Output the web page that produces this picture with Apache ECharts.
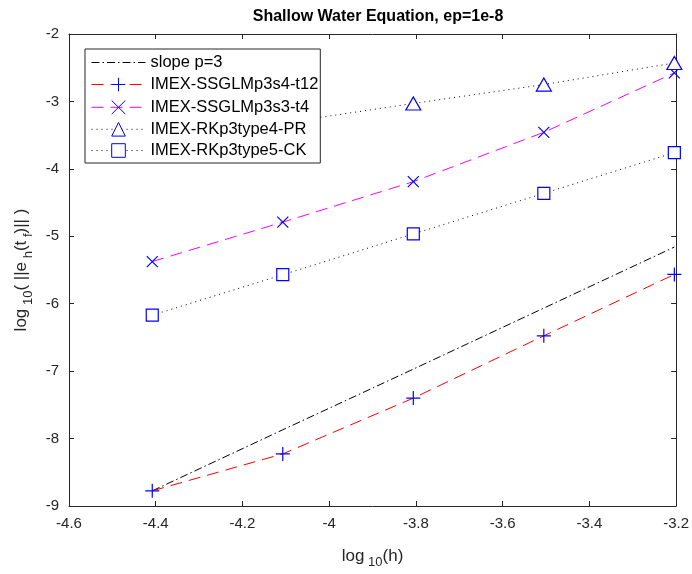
<!DOCTYPE html>
<html>
<head>
<meta charset="utf-8">
<script src="https://cdn.jsdelivr.net/npm/echarts@6/dist/echarts.min.js"></script>
<style>html,body{margin:0;padding:0;background:#fff}#c{width:692px;height:574px}</style>
</head>
<body>
<div id="c"></div>
<script>
// log10(h) sample positions
const logH = [-4.408, -4.107, -3.806, -3.505, -3.204];
const slopeP3 = [-8.775, -7.87, -6.97, -6.065, -5.16];
const ssglmP3s4 = [-8.775, -8.227, -7.40, -6.476, -5.566];
const ssglmP3s3 = [-5.375, -4.79, -4.19, -3.458, -2.577];
const rkType4 = [-3.60, -3.32, -3.03, -2.75, -2.43];
const rkType5 = [-6.17, -5.57, -4.965, -4.363, -3.76];
const seriesNames = ['slope p=3', 'IMEX-SSGLMp3s4-t12', 'IMEX-SSGLMp3s3-t4', 'IMEX-RKp3type4-PR', 'IMEX-RKp3type5-CK'];

function pairs(ys) { return logH.map((x, i) => [x, ys[i]]); }

const FONT = 'Liberation Sans, Arial, Helvetica, sans-serif';
const BLUE = '#0000ff';
const plusPath = 'path://M5,0L5,10M0,5L10,5';
const crossPath = 'path://M0,0L10,10M0,10L10,0';

const chart = echarts.init(document.getElementById('c'), null, {renderer: 'canvas'});
const axisCommon = {
  axisLine: {show: true, lineStyle: {color: '#262626', width: 1}},
  axisTick: {show: true, inside: true, length: 5, lineStyle: {color: '#262626'}},
  splitLine: {show: false},
};
const nameRich = {
  m: {fontFamily: FONT, fontSize: 17, color: '#262626'},
  s: {fontFamily: FONT, fontSize: 13, color: '#262626', padding: [13, 0, 0, 0]}
};
const legendData = seriesNames.map((n, i) => i === 0
  ? {name: n, itemStyle: {color: 'transparent', borderColor: 'transparent', borderWidth: 0}}
  : {name: n});
chart.setOption({
  animation: false,
  backgroundColor: '#fff',
  title: {
    text: 'Shallow Water Equation, ep=1e-8',
    left: 373, textAlign: 'center', top: 4,
    textStyle: {fontFamily: FONT, fontSize: 16, fontWeight: 'bold', color: '#000'}
  },
  grid: {left: 69, right: 15, top: 34, bottom: 63, containLabel: false},
  legend: {
    left: 85, top: 49, orient: 'vertical',
    backgroundColor: '#fff', borderColor: '#262626', borderWidth: 1,
    padding: [5, 2, 4, 6],
    itemWidth: 54, itemHeight: 17, itemGap: 4.2,
    itemStyle: {borderWidth: 1},
    lineStyle: {width: 1},
    textStyle: {fontFamily: FONT, fontSize: 16.5, color: '#000'},
    data: legendData
  },
  xAxis: [
    Object.assign({}, axisCommon, {
      type: 'value', min: -4.6, max: -3.2, interval: 0.2, position: 'bottom',
      axisLabel: {fontFamily: FONT, fontSize: 15, color: '#262626', margin: 10},
      name: '{m|log}{s| 10}{m|(h)}', nameLocation: 'middle', nameGap: 37,
      nameTextStyle: {rich: nameRich}
    }),
    Object.assign({}, axisCommon, {
      type: 'value', min: -4.6, max: -3.2, interval: 0.2, position: 'top',
      axisLabel: {show: false}
    })
  ],
  yAxis: [
    Object.assign({}, axisCommon, {
      type: 'value', min: -9, max: -2, interval: 1, position: 'left',
      axisLabel: {fontFamily: FONT, fontSize: 15, color: '#262626', margin: 10},
      name: '{m|log}{s| 10}{m|( ||e}{s| h}{m|(t}{s| f}{m|)|| )}', nameLocation: 'middle', nameGap: 31,
      nameTextStyle: {rich: nameRich}
    }),
    Object.assign({}, axisCommon, {
      type: 'value', min: -9, max: -2, interval: 1, position: 'right',
      axisLabel: {show: false}
    })
  ],
  series: [
    {
      name: seriesNames[0], type: 'line', data: pairs(slopeP3), showSymbol: false, symbol: 'circle',
      lineStyle: {color: '#000', width: 1, type: [8, 3, 1.5, 3]}, itemStyle: {color: '#000'}, z: 2
    },
    {
      name: seriesNames[1], type: 'line', data: pairs(ssglmP3s4), symbol: plusPath, symbolSize: 14,
      lineStyle: {color: '#ff0000', width: 1, type: [12, 7]},
      itemStyle: {color: 'none', borderColor: BLUE, borderWidth: 1.2}, z: 3
    },
    {
      name: seriesNames[2], type: 'line', data: pairs(ssglmP3s3), symbol: crossPath, symbolSize: 11,
      lineStyle: {color: '#ff00ff', width: 1, type: [12, 7]},
      itemStyle: {color: 'none', borderColor: BLUE, borderWidth: 1.2}, z: 3
    },
    {
      name: seriesNames[3], type: 'line', data: pairs(rkType4), symbol: 'triangle', symbolSize: [15, 13],
      lineStyle: {color: '#000', width: 1, type: [1, 4]},
      itemStyle: {color: '#fff', borderColor: BLUE, borderWidth: 1.2}, z: 3
    },
    {
      name: seriesNames[4], type: 'line', data: pairs(rkType5), symbol: 'rect', symbolSize: 12,
      lineStyle: {color: '#000', width: 1, type: [1, 4]},
      itemStyle: {color: '#fff', borderColor: BLUE, borderWidth: 1.2}, z: 3
    }
  ]
});
</script>
</body>
</html>
